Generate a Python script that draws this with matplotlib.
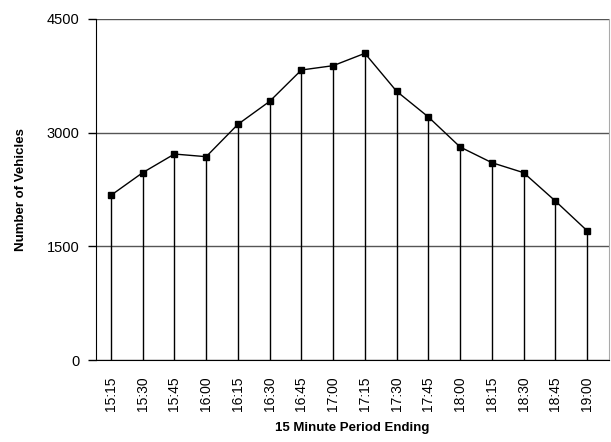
import matplotlib
matplotlib.use("Agg")
import matplotlib.pyplot as plt

periods = ["15:15", "15:30", "15:45", "16:00", "16:15", "16:30", "16:45", "17:00",
           "17:15", "17:30", "17:45", "18:00", "18:15", "18:30", "18:45", "19:00"]
vehicles = [2173, 2472, 2718, 2683, 3110, 3413, 3827, 3884,
            4047, 3546, 3207, 2811, 2604, 2472, 2098, 1706]

plt.rcParams['font.family'] = ['Liberation Sans', 'DejaVu Sans']

fig = plt.figure(figsize=(6.11, 4.42), dpi=100)
ax = fig.add_axes([96 / 611, 82 / 442, (609 - 96) / 611, (360 - 19) / 442])

x = list(range(len(periods)))
# drop lines from each point to zero
ax.vlines(x, 0, vehicles, colors='k', linewidth=1.0)
ax.plot(x, vehicles, color='k', linewidth=1.0, marker='s', markersize=5)

ax.set_ylim(0, 4500)
ax.set_xlim(-0.47, 15.69)
ax.set_yticks([0, 1500, 3000, 4500])
ax.set_xticks(x)
ax.set_xticklabels(periods, rotation=90)
ax.tick_params(axis='x', length=0, pad=12, labelsize=10)
ax.tick_params(axis='y', length=6, width=1, direction='out', pad=6, labelsize=10.5)

ax.grid(axis='y', color='#555555', linewidth=1.0)
ax.set_axisbelow(True)
ax.spines['top'].set_visible(False)
ax.spines['right'].set_color('#aaaaaa')
ax.spines['left'].set_color('k')
ax.spines['bottom'].set_color('k')

ax.set_xlabel('15 Minute Period Ending', fontsize=9.5, fontweight='bold', labelpad=8)
ax.set_ylabel('Number of Vehicles', fontsize=9.5, fontweight='bold', labelpad=14)

fig.savefig('out.png', dpi=100)
